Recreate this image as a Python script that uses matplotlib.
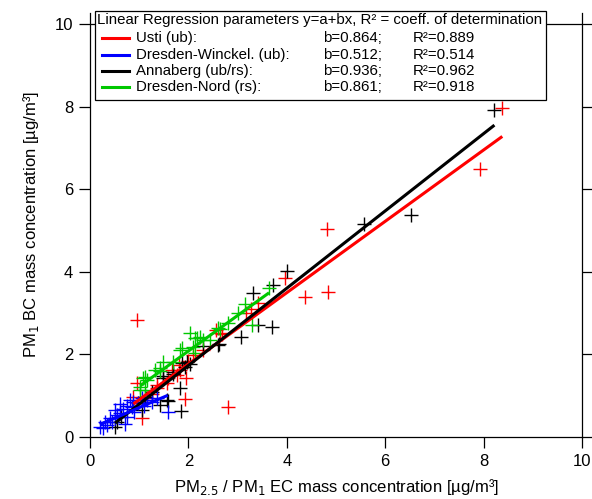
import matplotlib
matplotlib.use("Agg")
import matplotlib.pyplot as plt
from matplotlib.patches import Rectangle
from matplotlib.lines import Line2D

plt.rcParams["font.family"] = ["Liberation Sans", "DejaVu Sans"]

# site names, fit results (from the legend) and colours
sites = ["Usti (ub):", "Dresden-Winckel. (ub):", "Annaberg (ub/rs):", "Dresden-Nord (rs):"]
slopes = [0.864, 0.512, 0.936, 0.861]
r2 = [0.889, 0.514, 0.962, 0.918]
intercepts = [0.04, 0.20, -0.14, 0.36]
colors = ["#ff0000", "#0000ff", "#000000", "#00c800"]

# scatter data: x = PM2.5 / PM1 EC, y = PM1 BC  [ug/m3]
usti_x = [8.38, 7.93, 4.81, 4.83, 4.38, 3.96, 3.42, 3.27, 3.18, 2.68, 2.57, 2.64, 2.10,
          0.95, 2.80, 1.95, 1.93, 1.05, 0.95, 0.88, 1.36, 1.57, 1.66, 1.80, 1.76, 1.83,
          0.98, 1.05, 1.59, 1.36, 1.25, 1.15, 2.00, 2.30]
usti_y = [7.96, 6.48, 5.03, 3.52, 3.38, 3.84, 3.24, 3.09, 3.00, 2.49, 2.59, 2.51, 1.99,
          2.83, 0.72, 1.42, 0.91, 0.45, 1.30, 0.98, 1.26, 1.30, 1.62, 1.74, 1.50, 1.62,
          0.82, 0.90, 1.42, 1.18, 1.05, 0.95, 1.85, 2.10]

winckel_x = [1.58, 0.20, 0.30, 0.41, 0.54, 0.51, 0.68, 0.61, 0.75, 0.71, 0.75, 0.85, 0.88,
             0.81, 0.98, 1.15, 1.25, 1.36, 1.05, 0.44, 0.27, 0.34, 0.60, 0.90, 1.10, 0.50]
winckel_y = [0.61, 0.25, 0.37, 0.45, 0.53, 0.65, 0.69, 0.57, 0.49, 0.31, 0.75, 0.73, 0.85,
             0.90, 0.82, 0.90, 0.85, 0.94, 0.94, 0.37, 0.21, 0.29, 0.80, 0.60, 0.75, 0.45]

annaberg_x = [8.22, 5.56, 6.52, 4.00, 3.71, 3.31, 3.42, 3.69, 3.07, 2.63, 2.29, 2.61, 1.86,
              2.03, 1.49, 1.69, 1.83, 1.57, 1.85, 1.42, 1.05, 0.51, 0.54, 0.64, 1.97, 1.12,
              1.25, 1.49, 1.69, 1.93, 1.59]
annaberg_y = [7.93, 5.17, 5.38, 4.02, 3.68, 3.49, 2.71, 2.66, 2.43, 2.25, 2.20, 2.23, 1.80,
              1.78, 1.48, 1.53, 1.18, 0.90, 0.63, 0.77, 0.65, 0.25, 0.36, 0.49, 1.82, 0.98,
              1.10, 1.42, 1.58, 1.70, 0.86]

nord_x = [3.64, 3.29, 3.15, 2.64, 2.03, 2.13, 2.29, 2.44, 1.86, 2.10, 2.18, 1.82, 2.13, 1.49,
          1.32, 1.42, 1.12, 2.61, 2.24, 1.15, 1.02, 1.08, 1.02, 1.12, 1.42, 1.69, 3.00, 2.80]
nord_y = [3.62, 2.71, 3.22, 2.61, 2.51, 2.40, 2.35, 2.35, 2.15, 2.19, 2.39, 2.11, 2.04, 1.82,
          1.62, 1.61, 1.45, 2.63, 2.43, 1.38, 1.14, 1.42, 1.22, 1.14, 1.66, 1.82, 3.00, 2.75]

xs = [usti_x, winckel_x, annaberg_x, nord_x]
ys = [usti_y, winckel_y, annaberg_y, nord_y]

W, H = 592, 499
fig = plt.figure(figsize=(W / 100, H / 100), dpi=100)
# axes box in pixels: x 90..582, y(0)=437, top of axis lines at ~13
ax = fig.add_axes([90 / W, 1 - 437 / H, 492 / W, 424 / H])

# points (order: red, black, green, blue)
for i in [0, 2, 3, 1]:
    ax.plot(xs[i], ys[i], ls="none", marker="+", ms=9.5, mew=1.0, color=colors[i])

# regression lines over each site's x range
for i in [0, 2, 1, 3]:
    x0, x1 = min(xs[i]), max(xs[i])
    ax.plot([x0, x1], [intercepts[i] + slopes[i] * x0, intercepts[i] + slopes[i] * x1],
            color=colors[i], lw=2.2, solid_capstyle="butt")

ax.set_xlim(0, 10)
ax.set_ylim(0, 10.27)
ax.axhline(10, color="black", lw=0.9)

for s in ["left", "right", "bottom"]:
    ax.spines[s].set_linewidth(0.9)
ax.spines["top"].set_visible(False)

ax.set_xticks([0, 2, 4, 6, 8, 10])
ax.set_yticks([0, 2, 4, 6, 8, 10])
ax.tick_params(axis="both", direction="out", length=8, width=0.9, labelsize=12, pad=4)
ax.tick_params(axis="y", right=True, labelright=False)

ax.set_xlabel("PM$_{2.5}$ / PM$_1$ EC mass concentration [µg/m³]", fontsize=12, labelpad=6)
ax.set_ylabel("PM$_1$ BC mass concentration [µg/m³]", fontsize=12, labelpad=10)

# legend box drawn in pixel positions
def fx(px):
    return px / W


def fy(py):
    return 1 - py / H


fig.patches.append(Rectangle((fx(95), fy(100)), fx(546) - fx(95), fy(11) - fy(100),
                             transform=fig.transFigure, facecolor="white",
                             edgecolor="black", lw=0.9, zorder=5))
fig.text(fx(97), fy(20), "Linear Regression parameters y=a+bx, R² = coeff. of determination",
         fontsize=10.8, va="center", ha="left", zorder=6)
row_y = [38.3, 54.7, 71, 87.3]
for i in range(4):
    fig.lines.append(Line2D([fx(102), fx(129)], [fy(row_y[i]), fy(row_y[i])],
                            transform=fig.transFigure, color=colors[i], lw=2.2, zorder=6))
    fig.text(fx(136), fy(row_y[i]), sites[i], fontsize=10.8, va="center", ha="left", zorder=6)
    fig.text(fx(323), fy(row_y[i]), "b=%.3f;" % slopes[i], fontsize=10.8, va="center",
             ha="left", zorder=6)
    fig.text(fx(413), fy(row_y[i]), "R²=%.3f" % r2[i], fontsize=10.8, va="center",
             ha="left", zorder=6)

fig.savefig("out.png", dpi=100)
